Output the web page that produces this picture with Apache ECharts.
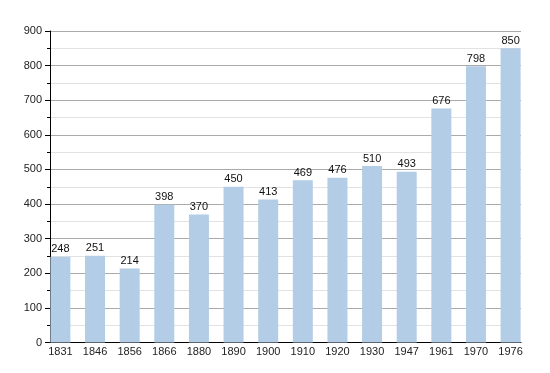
<!DOCTYPE html>
<html>
<head>
<meta charset="utf-8">
<script src="https://cdn.jsdelivr.net/npm/echarts@6/dist/echarts.min.js"></script>
<style>html,body{margin:0;padding:0;background:#fff}#c{width:550px;height:373px}</style>
</head>
<body>
<div id="c"></div>
<script>
const years = ['1831','1846','1856','1866','1880','1890','1900','1910','1920','1930','1947','1961','1970','1976'];
const population = [248, 251, 214, 398, 370, 450, 413, 469, 476, 510, 493, 676, 798, 850];
const yTicks = [0, 100, 200, 300, 400, 500, 600, 700, 800, 900];

const chart = echarts.init(document.getElementById('c'), null, {renderer: 'canvas'});
const idx = years.map((_, i) => i);
chart.setOption({
  animation: false,
  textStyle: {fontFamily: 'Liberation Sans, Arial, sans-serif'},
  grid: {left: 50, right: 29, top: 31, bottom: 30.5, containLabel: false},
  xAxis: {
    type: 'value',
    min: -0.3,
    max: 13.3,
    axisLine: {show: true, onZero: false, lineStyle: {color: '#000', width: 1}},
    axisTick: {show: false},
    splitLine: {show: false},
    axisLabel: {
      customValues: idx,
      formatter: v => years[Math.round(v)],
      color: '#222', fontSize: 11, margin: 4
    }
  },
  yAxis: {
    type: 'value',
    min: 0, max: 900, interval: 100,
    axisLine: {show: true, onZero: false, lineStyle: {color: '#000', width: 1}},
    axisTick: {show: true, inside: false, length: 5, lineStyle: {color: '#000'}},
    minorTick: {show: true, splitNumber: 2, length: 3, lineStyle: {color: '#000'}},
    splitLine: {show: true, lineStyle: {color: '#aaa', width: 1}},
    minorSplitLine: {show: true, lineStyle: {color: '#e2e2e2', width: 1}},
    axisLabel: {color: '#222', fontSize: 11, margin: 8,
      formatter: v => yTicks.includes(v) ? String(v) : ''}
  },
  series: [{
    type: 'bar',
    barWidth: 20,
    data: population.map((v, i) => [i, v]),
    itemStyle: {color: '#b3cde6'},
    label: {show: true, position: 'top', distance: 2, color: '#111', fontSize: 11,
      formatter: p => p.value[1]}
  }]
});
</script>
</body>
</html>
